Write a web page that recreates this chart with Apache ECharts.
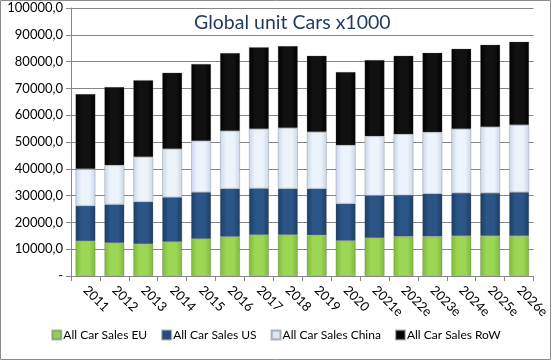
<!DOCTYPE html>
<html><head><meta charset="utf-8">
<script src="https://cdn.jsdelivr.net/npm/echarts@6/dist/echarts.min.js"></script>
<style>html,body{margin:0;padding:0;background:#fff}#c{width:552px;height:361px}</style>
</head><body><div id="c"></div>
<script>
var categories = ['2011','2012','2013','2014','2015','2016','2017','2018','2019','2020','2021e','2022e','2023e','2024e','2025e','2026e'];
var salesEU    = [13000,12300,11900,12700,13800,14600,15300,15300,15200,13100,14200,14700,14700,14900,14900,14900];
var salesUS    = [13200,14400,15800,16700,17500,18000,17400,17300,17400,13900,15800,15400,16000,16100,16100,16400];
var salesChina = [13700,14600,16700,18000,19100,21500,22150,22600,21100,21800,22100,22800,22900,23850,24600,25000];
var salesRoW   = [28000,29200,28700,28500,28700,29100,30550,30600,28500,27300,28500,29300,29700,29950,30700,31100];
var seriesNames = ['All Car Sales EU','All Car Sales US','All Car Sales China','All Car Sales RoW'];
var yTicks = [0,10000,20000,30000,40000,50000,60000,70000,80000,90000,100000];

function grad(edge, mid) {
  return new echarts.graphic.LinearGradient(0,0,1,0,[
    {offset:0,color:edge},{offset:0.3,color:mid},{offset:0.7,color:mid},{offset:1,color:edge}]);
}
var styles = [
  {c: grad('#7fb83c','#9bd655'), lc:'#92D050'},
  {c: grad('#1c3d63','#2a5586'), lc:'#254E7C'},
  {c: grad('#c9d6e8','#edf3fb'), lc:'#DCE6F2'},
  {c: grad('#000000','#111111'), lc:'#000000'}
];
var dataSets = [salesEU, salesUS, salesChina, salesRoW];
var series = dataSets.map(function(d,i){
  return {
    name: seriesNames[i], type:'bar', stack:'total', data:d,
    barCategoryGap:'31%',
    itemStyle:{color: styles[i].c, borderColor:'rgba(90,90,90,0.45)', borderWidth:0.6},
    emphasis:{disabled:true}
  };
});

var chart = echarts.init(document.getElementById('c'), null, {renderer:'canvas'});
chart.setOption({
  animation:false,
  textStyle:{fontFamily:'Lato, "Liberation Sans", sans-serif'},
  graphic:[{type:'rect', shape:{x:0.5,y:0.5,width:550,height:359}, style:{fill:'none', stroke:'#8c8c8c', lineWidth:1}, silent:true}],
  title:{text:'Global unit Cars x1000', left:189, top:8,
    textStyle:{fontFamily:'Lato, "Liberation Sans", sans-serif', fontSize:19.5, fontWeight:'normal', color:'#1f3a5f'}},
  legend:{
    data: seriesNames.map(function(n,i){return {name:n, itemStyle:{color:styles[i].lc}};}),
    bottom:15, left:'center', itemWidth:9, itemHeight:9, itemGap:14, icon:'rect',
    textStyle:{fontSize:12, color:'#000', padding:[0,0,0,-3]}
  },
  grid:{left:71, right:18, top:8, bottom:85, containLabel:false},
  xAxis:{
    type:'category', data:categories,
    axisLine:{lineStyle:{color:'#868686'}},
    axisTick:{show:true, alignWithLabel:false, length:5, lineStyle:{color:'#868686'}},
    axisLabel:{rotate:-45, fontSize:13, color:'#000', margin:12, interval:0}
  },
  yAxis:{
    type:'value', min:0, max:100000, interval:10000,
    axisLine:{show:true, lineStyle:{color:'#868686'}},
    axisTick:{show:true, inside:false, length:5, lineStyle:{color:'#868686'}},
    splitLine:{lineStyle:{color:'#868686'}},
    axisLabel:{fontSize:13, color:'#000', margin:8,
      formatter:function(v){ return v===0 ? '-' : v.toFixed(1).replace('.',','); }}
  },
  series: series
});
</script></body></html>
